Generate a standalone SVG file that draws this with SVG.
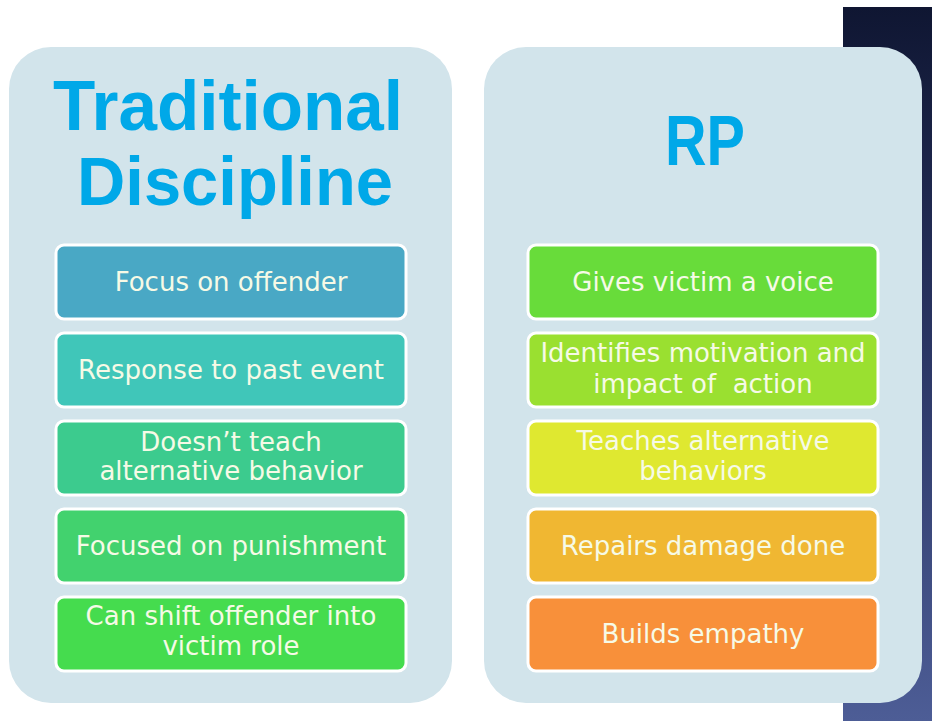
<svg xmlns="http://www.w3.org/2000/svg" width="932" height="721" viewBox="0 0 932 721">
<defs>
<linearGradient id="dark" x1="0" y1="0" x2="0" y2="1">
<stop offset="0" stop-color="#0f1632"/>
<stop offset="0.5" stop-color="#2c3766"/>
<stop offset="1" stop-color="#4d5d96"/>
</linearGradient>
</defs>
<style>
.panel{fill:#d2e4eb;}
.box{stroke:#ffffff;stroke-width:3;}
.title{font-family:"Liberation Sans",Arial,sans-serif;font-weight:bold;fill:#00a8e8;text-anchor:middle;}
.lbl{font-family:"DejaVu Sans",Verdana,sans-serif;font-size:26px;fill:#f6fae6;text-anchor:middle;white-space:pre;}
</style>
<rect width="932" height="721" fill="#ffffff"/>
<rect x="843" y="7" width="89" height="714" fill="url(#dark)"/>
<g id="panel-traditional">
<rect class="panel" x="9" y="47" width="443" height="656" rx="42"/>
<text class="title" x="228" y="130" font-size="71" textLength="350" lengthAdjust="spacingAndGlyphs">Traditional</text>
<text class="title" x="235" y="205" font-size="68" textLength="316" lengthAdjust="spacingAndGlyphs">Discipline</text>
</g>
<g id="panel-rp">
<rect class="panel" x="484" y="47" width="438" height="656" rx="42"/>
<text class="title" x="705" y="165" font-size="70" textLength="80" lengthAdjust="spacingAndGlyphs">RP</text>
</g>
<g id="t1"><rect class="box" x="56" y="245" width="350" height="74" rx="8" fill="#49a8c5"/><text class="lbl" x="231" y="291">Focus on offender</text></g>
<g id="t2"><rect class="box" x="56" y="333" width="350" height="74" rx="8" fill="#40c6b9"/><text class="lbl" x="231" y="379">Response to past event</text></g>
<g id="t3"><rect class="box" x="56" y="421" width="350" height="74" rx="8" fill="#3ccb8e"/><text class="lbl" x="231" y="451">Doesn’t teach</text><text class="lbl" x="231" y="480">alternative behavior</text></g>
<g id="t4"><rect class="box" x="56" y="509" width="350" height="74" rx="8" fill="#42d26e"/><text class="lbl" x="231" y="555">Focused on punishment</text></g>
<g id="t5"><rect class="box" x="56" y="597" width="350" height="74" rx="8" fill="#45dc4e"/><text class="lbl" x="231" y="625">Can shift offender into</text><text class="lbl" x="231" y="655">victim role</text></g>
<g id="r1"><rect class="box" x="528" y="245" width="350" height="74" rx="8" fill="#68dc3a"/><text class="lbl" x="703" y="291">Gives victim a voice</text></g>
<g id="r2"><rect class="box" x="528" y="333" width="350" height="74" rx="8" fill="#9ae030"/><text class="lbl" x="703" y="362">Identifies motivation and</text><text class="lbl" x="703" y="393" xml:space="preserve">impact of  action</text></g>
<g id="r3"><rect class="box" x="528" y="421" width="350" height="74" rx="8" fill="#dfe830"/><text class="lbl" x="703" y="450">Teaches alternative</text><text class="lbl" x="703" y="480">behaviors</text></g>
<g id="r4"><rect class="box" x="528" y="509" width="350" height="74" rx="8" fill="#f0b732"/><text class="lbl" x="703" y="555">Repairs damage done</text></g>
<g id="r5"><rect class="box" x="528" y="597" width="350" height="74" rx="8" fill="#f8903a"/><text class="lbl" x="703" y="643">Builds empathy</text></g>
<g id="connectors"></g>
</svg>
